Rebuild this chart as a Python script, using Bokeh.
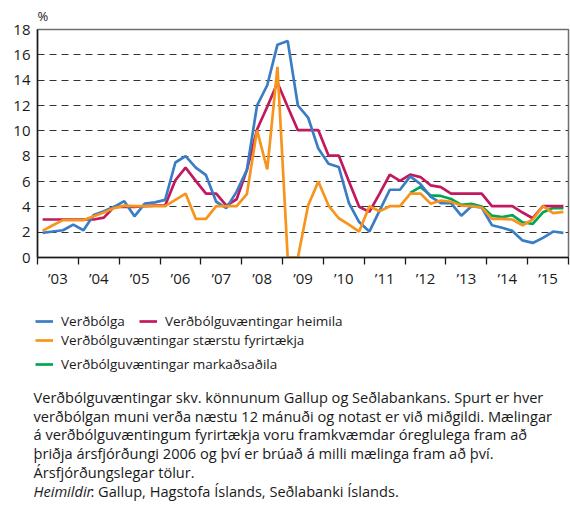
import numpy as np
from bokeh.plotting import figure
from bokeh.layouts import column
from bokeh.models import Range1d, FixedTicker, Label, Legend
from bokeh.embed import file_html
from bokeh.resources import INLINE

# ---------------- data (quarterly, 2003Q1 - 2015Q4) ----------------
years = list(range(2003, 2016))
year_labels = ["’03", "’04", "’05", "’06", "’07", "’08", "’09", "’10", "’11", "’12", "’13", "’14", "’15"]

verdbolga = [1.95, 2.05, 2.15, 2.6,
             2.15, 3.35, 3.65, 4.0,
             4.45, 3.25, 4.25, 4.35,
             4.55, 7.5, 8.0, 7.1,
             6.5, 4.4, 3.9, 5.2,
             6.9, 12.0, 13.6, 16.8,
             17.1, 12.0, 11.05, 8.6,
             7.4, 7.15, 4.3, 2.8,
             2.05, 3.7, 5.35, 5.35,
             6.4, 5.8, 4.8, 4.3,
             4.3, 3.3, 4.05, 3.95,
             2.55, 2.35, 2.1, 1.35,
             1.15, 1.55, 2.05, 1.95]

heimili = [3.0, 3.0, 3.0, 3.0,
           3.0, 3.0, 3.15, 4.0,
           4.0, 4.0, 4.05, 4.1,
           4.1, 6.1, 7.1, 6.05,
           5.05, 5.05, 4.1, 4.6,
           6.9, 10.1, 11.9, 13.8,
           11.9, 10.05, 10.05, 10.05,
           8.05, 8.05, 6.0, 4.0,
           3.6, 5.05, 6.55, 6.05,
           6.55, 6.35, 5.7, 5.55,
           5.05, 5.05, 5.05, 5.05,
           4.05, 4.05, 4.05, 3.55,
           3.1, 4.05, 4.05, 4.05]

fyrirtaeki = [2.1, 2.55, 2.95, 2.95,
              2.95, 3.25, 3.55, 3.9,
              4.1, 4.05, 4.05, 4.05,
              4.05, 4.55, 5.05, 3.05,
              3.05, 4.05, 4.05, 4.05,
              5.0, 10.05, 6.95, 15.05,
              0.0, 0.0, 4.1, 6.0,
              4.1, 3.1, 2.6, 2.05,
              4.05, 3.65, 4.05, 4.05,
              5.05, 5.05, 4.25, 4.5,
              4.4, 4.1, 4.05, 3.95,
              3.05, 3.05, 3.0, 2.55,
              3.0, 4.05, 3.5, 3.6]

nan = float("nan")
markadsadilar = [nan] * 36 + [5.1, 5.57, 4.9, 4.86,
                              4.62, 4.15, 4.24, 4.03,
                              3.3, 3.19, 3.34, 2.78,
                              2.66, 3.57, 3.9, 3.9]

series_names = ["Verðbólga", "Verðbólguvæntingar heimila",
                "Verðbólguvæntingar stærstu fyrirtækja",
                "Verðbólguvæntingar markaðsaðila"]

notes = ["Verðbólguvæntingar skv. könnunum Gallup og Seðlabankans. Spurt er hver",
         "verðbólgan muni verða næstu 12 mánuði og notast er við miðgildi. Mælingar",
         "á verðbólguvæntingum fyrirtækja voru framkvæmdar óreglulega fram að",
         "þriðja ársfjórðungi 2006 og því er brúað á milli mælinga fram að því.",
         "Ársfjórðungslegar tölur."]
source_label = "Heimildir"
source_text = ": Gallup, Hagstofa Íslands, Seðlabanki Íslands."

# quarter mid-points on a continuous year axis
x = [y + (q - 0.5) / 4 for y in years for q in range(1, 5)]

FONT = "Open Sans"
TXT = "#1a1a1a"
BLUE = "#3b7dc4"
RED = "#c2185e"
ORANGE = "#f7941d"
GREEN = "#00a651"
LW = 2.7
NOTE_SIZE = "14.6px"

# ---------------- main chart ----------------
p = figure(width=570, height=290,
           x_range=Range1d(2003, 2016), y_range=Range1d(0, 18),
           output_backend="svg", toolbar_location=None,
           min_border_left=37, min_border_right=2,
           min_border_top=28, min_border_bottom=25)
p.background_fill_color = "white"
p.border_fill_color = "white"
p.outline_line_color = "#6e6e6e"
p.outline_line_width = 1.5

p.title.text = "%"
p.title.align = "left"
p.title.text_font = FONT
p.title.text_font_size = "13px"
p.title.text_font_style = "normal"
p.title.text_color = TXT
p.title.standoff = 9

p.xgrid.visible = False
p.ygrid.ticker = FixedTicker(ticks=[2, 4, 6, 8, 10, 12, 14, 16])
p.ygrid.grid_line_color = "#333333"
p.ygrid.grid_line_width = 1
p.ygrid.grid_line_dash = "7 5"

p.yaxis.ticker = FixedTicker(ticks=list(range(0, 19, 2)))
p.yaxis.major_tick_out = 0
p.yaxis.major_tick_in = 0
p.yaxis.minor_tick_out = 0
p.yaxis.minor_tick_in = 0
p.yaxis.major_label_standoff = 7
p.yaxis.major_label_text_font = FONT
p.yaxis.major_label_text_font_size = "15px"
p.yaxis.major_label_text_color = TXT
p.yaxis.axis_line_color = TXT
p.yaxis.axis_line_width = 1.5

mids = [y + 0.5 for y in years]
p.xaxis.ticker = FixedTicker(ticks=mids, minor_ticks=list(range(2003, 2017)))
p.xaxis.major_label_overrides = {m: lab for m, lab in zip(mids, year_labels)}
p.xaxis.major_tick_out = 0
p.xaxis.major_tick_in = 0
p.xaxis.minor_tick_out = 7
p.xaxis.minor_tick_in = 0
p.xaxis.minor_tick_line_color = TXT
p.xaxis.minor_tick_line_width = 1.3
p.xaxis.major_label_standoff = 3
p.xaxis.major_label_text_font = FONT
p.xaxis.major_label_text_font_size = "15px"
p.xaxis.major_label_text_color = TXT
p.xaxis.axis_line_color = TXT
p.xaxis.axis_line_width = 1.5

p.line(x, np.array(markadsadilar), line_color=GREEN, line_width=LW)
p.line(x, heimili, line_color=RED, line_width=LW)
p.line(x, verdbolga, line_color=BLUE, line_width=LW)
p.line(x, fyrirtaeki, line_color=ORANGE, line_width=LW)

# ---------------- legend + footnote panel (page-pixel coordinates) ----------------
TOP, BOTTOM = 290, 502
q = figure(width=570, height=BOTTOM - TOP,
           x_range=Range1d(0, 570), y_range=Range1d(BOTTOM, TOP),
           x_axis_type=None, y_axis_type=None,
           output_backend="svg", toolbar_location=None,
           min_border_left=0, min_border_right=0,
           min_border_top=0, min_border_bottom=0)
# do not align this panel's frame with the chart frame above
if "frame_align" in q.properties():
    q.frame_align = False
    p.frame_align = False
q.grid.visible = False
q.outline_line_color = None
q.background_fill_color = "white"
q.border_fill_color = "white"

# hidden copies of the series only serve as legend swatches
lb = q.line(x, verdbolga, line_color=BLUE, line_width=LW, visible=False)
lr = q.line(x, heimili, line_color=RED, line_width=LW, visible=False)
lo = q.line(x, fyrirtaeki, line_color=ORANGE, line_width=LW, visible=False)
lg = q.line(x, np.array(markadsadilar), line_color=GREEN, line_width=LW, visible=False)


def style_legend(leg):
    leg.border_line_color = None
    leg.background_fill_alpha = 0
    leg.inactive_fill_alpha = 0
    leg.padding = 0
    leg.margin = 0
    leg.label_text_font = FONT
    leg.label_text_font_size = "13.5px"
    leg.label_text_color = TXT
    leg.glyph_width = 18
    leg.glyph_height = 18
    leg.label_height = 18
    leg.label_standoff = 8


leg1 = Legend(items=[(series_names[0], [lb]), (series_names[1], [lr])],
              orientation="horizontal", location=(35, BOTTOM - 330))
style_legend(leg1)
leg1.spacing = 14
q.add_layout(leg1)

leg2 = Legend(items=[(series_names[2], [lo]), (series_names[3], [lg])],
              orientation="vertical", location=(35, BOTTOM - 373))
style_legend(leg2)
leg2.spacing = 6
q.add_layout(leg2)

note_rows = [396, 415, 433, 452, 471]
for txt, row in zip(notes, note_rows):
    q.add_layout(Label(x=33, y=row, text=txt, text_font=FONT, text_font_size=NOTE_SIZE,
                       text_color=TXT, text_align="left", text_baseline="middle"))

q.add_layout(Label(x=33, y=490, text=source_label, text_font=FONT, text_font_size=NOTE_SIZE,
                   text_font_style="italic", text_color=TXT,
                   text_align="left", text_baseline="middle"))
q.add_layout(Label(x=90, y=490, text=source_text, text_font=FONT, text_font_size=NOTE_SIZE,
                   text_color=TXT, text_align="left", text_baseline="middle"))

layout = column(p, q, spacing=0)
open("out.html", "w").write(file_html(layout, INLINE))
